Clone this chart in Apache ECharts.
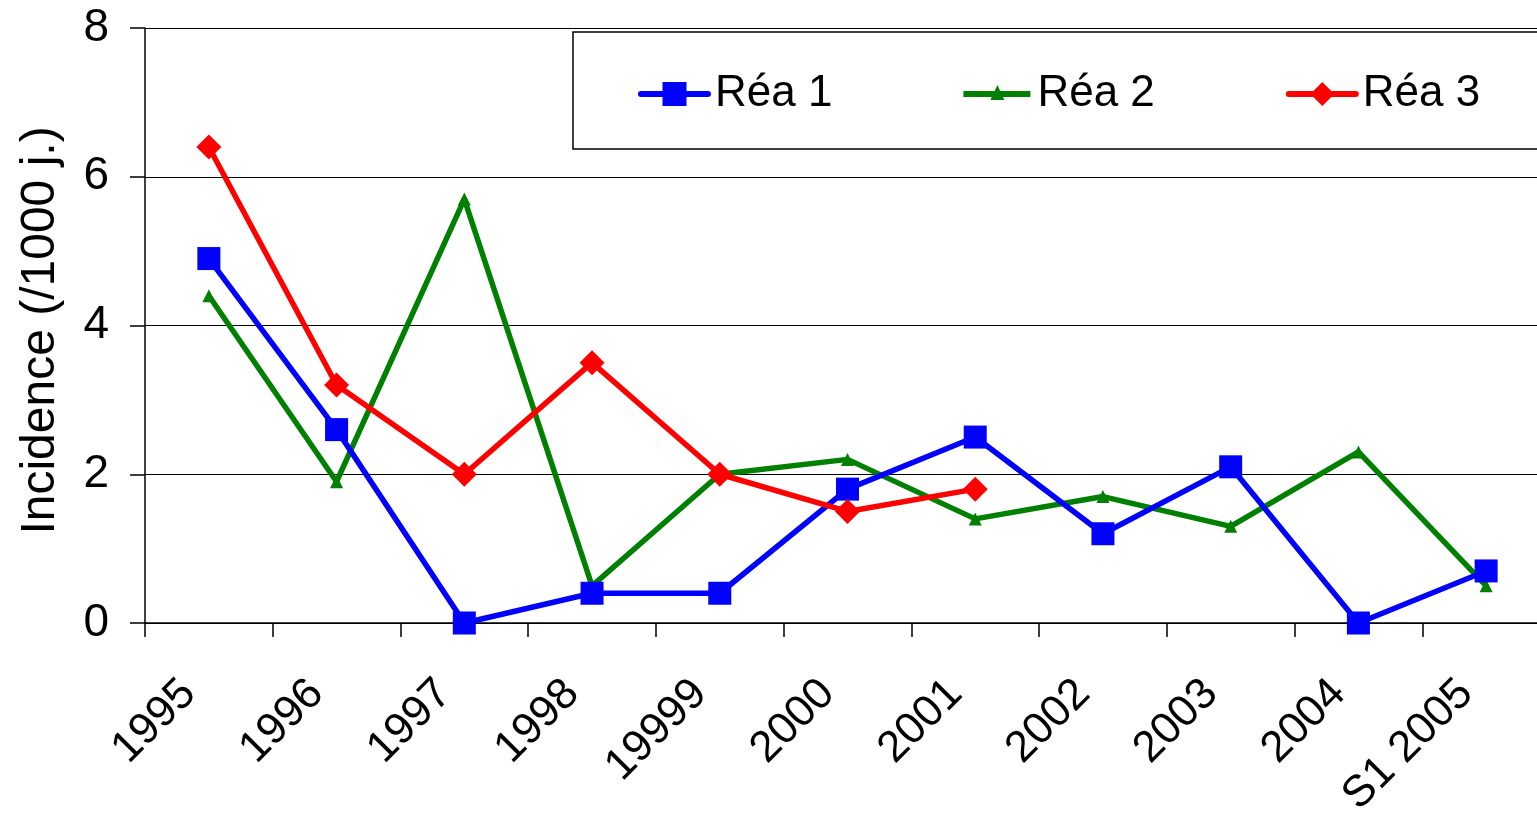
<!DOCTYPE html>
<html>
<head>
    <meta charset="utf-8">
    <title>Incidence</title>
    <script src="https://cdn.jsdelivr.net/npm/echarts@6/dist/echarts.min.js"></script>
    <style>
        html, body { margin: 0; padding: 0; background: #fff; }
    </style>
</head>
<body>
    <div id="main" style="width: 1537px;height:827px;"></div>
    <script type="text/javascript">
        // categories and values
        var years = ['1995', '1996', '1997', '1998', '19999', '2000', '2001', '2002', '2003', '2004', 'S1 2005'];
        var rea1 = [4.9, 2.6, 0, 0.4, 0.4, 1.8, 2.5, 1.2, 2.1, 0, 0.7];
        var rea2 = [4.4, 1.9, 5.7, 0.5, 2.0, 2.2, 1.4, 1.7, 1.3, 2.3, 0.5];
        var rea3 = [6.4, 3.2, 2.0, 3.5, 2.0, 1.5, 1.8, null, null, null, null];
        var yTicks = [0, 2, 4, 6, 8];

        var font = 'Liberation Sans, Arial, sans-serif';
        var myChart = echarts.init(document.getElementById('main'));

        // legend icon for Réa 2: line with a small triangle (67 x 30 box)
        var triIcon = 'path://M0,0 M0,12 L67,12 L67,18 L0,18 Z M27,21 L34,6 L41,21 Z M67,30';

        var option = {
            animation: false,
            backgroundColor: '#fff',
            textStyle: { fontFamily: font },
            grid: {
                left: 145,
                top: 28,
                width: 1405,
                height: 595,
                outerBoundsMode: 'none'
            },
            legend: {
                data: [
                    { name: 'Réa 1' },
                    { name: 'Réa 2', icon: triIcon },
                    { name: 'Réa 3' }
                ],
                left: 573,
                top: 32,
                width: 1100,
                orient: 'horizontal',
                padding: [40, 120, 33, 65],
                itemGap: 131,
                itemWidth: 67,
                itemHeight: 30,
                lineStyle: { width: 6, cap: 'round' },
                backgroundColor: '#fff',
                borderColor: '#000',
                borderWidth: 1.5,
                textStyle: { fontSize: 44, color: '#000', fontFamily: font, padding: [0, 0, 0, 2] }
            },
            xAxis: {
                type: 'category',
                data: years,
                boundaryGap: true,
                axisLine: { lineStyle: { color: '#000', width: 1.5 } },
                axisTick: { show: true, length: 14, lineStyle: { color: '#000', width: 1.5 } },
                axisLabel: {
                    rotate: 45,
                    interval: 0,
                    margin: 44,
                    padding: [0, 28, 0, 0],
                    fontSize: 44,
                    color: '#000',
                    fontFamily: font
                },
                splitLine: { show: false }
            },
            yAxis: {
                type: 'value',
                min: yTicks[0],
                max: yTicks[yTicks.length - 1],
                interval: 2,
                name: 'Incidence (/1000 j.)',
                nameLocation: 'middle',
                nameGap: 80,
                nameTextStyle: { fontSize: 48, color: '#000', fontFamily: font, padding: [0, 10, 0, 0] },
                axisLine: { show: true, lineStyle: { color: '#000', width: 1.5 } },
                axisTick: { show: true, length: 15, lineStyle: { color: '#000', width: 1.5 } },
                axisLabel: { fontSize: 46, color: '#000', margin: 36, fontFamily: font },
                splitLine: { show: true, lineStyle: { color: '#000', width: 1.2 } }
            },
            series: [
                {
                    name: 'Réa 1',
                    type: 'line',
                    data: rea1,
                    z: 3,
                    symbol: 'rect',
                    symbolSize: 23,
                    showAllSymbol: true,
                    color: '#0000ff',
                    lineStyle: { color: '#0000ff', width: 5.5 },
                    itemStyle: { color: '#0000ff' }
                },
                {
                    name: 'Réa 2',
                    type: 'line',
                    data: rea2,
                    z: 2,
                    symbol: 'triangle',
                    symbolSize: 13,
                    showAllSymbol: true,
                    color: '#008000',
                    lineStyle: { color: '#008000', width: 5.5 },
                    itemStyle: { color: '#008000' }
                },
                {
                    name: 'Réa 3',
                    type: 'line',
                    data: rea3,
                    z: 4,
                    symbol: 'diamond',
                    symbolSize: 25,
                    showAllSymbol: true,
                    color: '#ff0000',
                    lineStyle: { color: '#ff0000', width: 5.5 },
                    itemStyle: { color: '#ff0000' }
                }
            ]
        };

        myChart.setOption(option);
    </script>
</body>
</html>
